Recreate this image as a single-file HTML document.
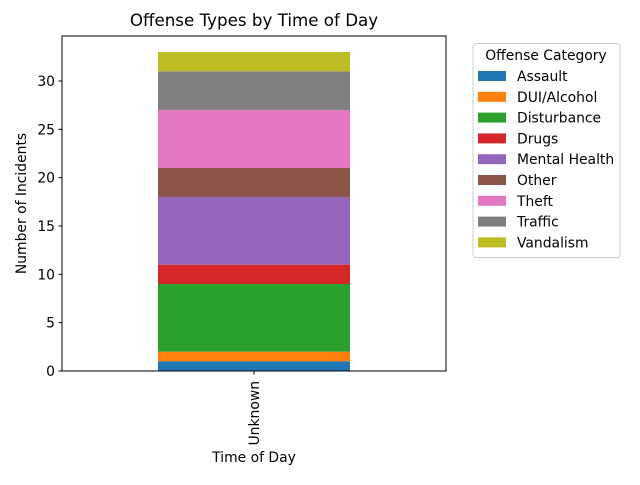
<!DOCTYPE html>
<html><head><meta charset="utf-8"><style>
body{margin:0;background:#fff}
svg text{font-family:"DejaVu Sans","Liberation Sans",sans-serif}
</style></head><body>
<svg id="chart" width="640" height="480" viewBox="0 0 640 480">
<text x="254" y="26" text-anchor="middle" font-size="16.7px">Offense Types by Time of Day</text>
<g id="plot"></g>
<rect x="62" y="36" width="384" height="335" fill="none" stroke="#000" stroke-width="1"/>
<text x="254" y="462" text-anchor="middle" font-size="13.9px">Time of Day</text>
<text transform="translate(26,203.5) rotate(-90)" text-anchor="middle" font-size="13.9px">Number of Incidents</text>
<g id="legend"></g>
</svg>
<script>
const categories = ["Unknown"];
const series = ["Assault","DUI/Alcohol","Disturbance","Drugs","Mental Health","Other","Theft","Traffic","Vandalism"];
const values = [1,1,7,2,7,3,6,4,2];
const colors = ["#1f77b4","#ff7f0e","#2ca02c","#d62728","#9467bd","#8c564b","#e377c2","#7f7f7f","#bcbd22"];
const yTicks = [0,5,10,15,20,25,30];

const NS="http://www.w3.org/2000/svg";
const total = values.reduce((a,b)=>a+b,0);
const yMax = total*1.05;
const y = v => 371 - v*(335/yMax);
const plot=document.getElementById('plot');
function mk(tag,attrs,parent){const e=document.createElementNS(NS,tag);for(const k in attrs)e.setAttribute(k,attrs[k]);parent.appendChild(e);return e;}
let cum=0;
values.forEach((v,i)=>{
  const r=mk('rect',{x:158,y:y(cum+v),width:192,height:y(cum)-y(cum+v),fill:colors[i]},plot);
  
  
  cum+=v;
});
yTicks.forEach(t=>{
  const l=mk('line',{x1:58.5,x2:62,y1:y(t),y2:y(t),stroke:'#000'},plot);
  
  
  const tx=mk('text',{x:55,y:y(t)+5,'text-anchor':'end','font-size':'13.9px'},plot);
  tx.textContent=t;
  
  
});
categories.forEach((c,i)=>{
  const cx=254;
  const l=mk('line',{x1:cx,x2:cx,y1:371,y2:374.5,stroke:'#000'},plot);
  
  
  const tx=mk('text',{transform:`translate(${cx+5},381) rotate(-90)`,'text-anchor':'end','font-size':'13.9px'},plot);
  tx.textContent=c;
  
  
});
const lg=document.getElementById('legend');
const box=mk('rect',{x:473,y:43.5,width:147,height:214,rx:3,fill:'#fff',stroke:'#ccc'},lg);


const lt=mk('text',{x:546,y:60,'text-anchor':'middle','font-size':'13.9px'},lg);
lt.textContent='Offense Category';


series.forEach((s,i)=>{
  const yy=76+i*20.8;
  const sw=mk('rect',{x:478,y:yy-5,width:28,height:10,fill:colors[i]},lg);
  
  
  const t=mk('text',{x:517,y:yy+5,'font-size':'13.9px'},lg);
  t.textContent=s;
  
  
});
</script>
</body></html>
